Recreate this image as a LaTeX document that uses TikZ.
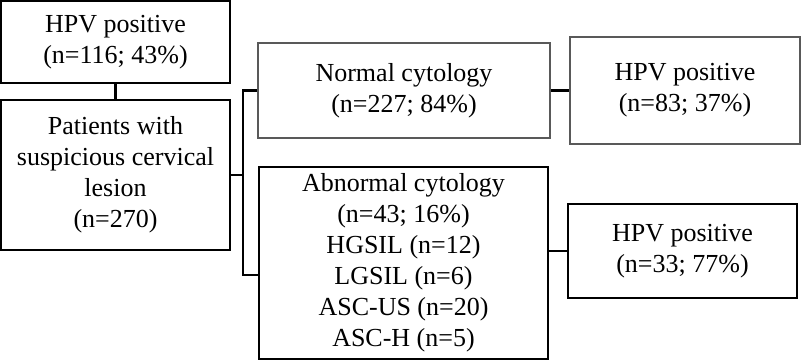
\documentclass[tikz,border=0pt]{standalone}
\usepackage{fontspec}
\setmainfont{Liberation Serif}
\usepackage{tikz}
\usetikzlibrary{positioning,calc}

\begin{document}
\begin{tikzpicture}[x=1pt,y=-1pt,
    box/.style={draw,line width=2.6pt,align=center,inner sep=0pt,
        font=\fontsize{26}{31}\selectfont},
    greybox/.style={box,draw=black!65,line width=1.8pt},
    link/.style={line width=2.2pt}]
            \useasboundingbox (0,0) rectangle (801,361);

            % Left column
            \node[box,minimum width=229pt,minimum height=82pt] (hpvall) at (115.5,42) {HPV positive\\(n=116; 43\%)};
            \node[box,minimum width=229pt,minimum height=150pt] (patients) at (115.5,175) {Patients with\\suspicious cervical\\lesion\\(n=270)};

            % Cytology
            \node[greybox,minimum width=292pt,minimum height=95pt] (normal) at (404,90.5) {Normal cytology\\(n=227; 84\%)};
            \node[box,minimum width=289pt,minimum height=192pt] (abnormal) at (403.5,263) {Abnormal cytology\\(n=43; 16\%)\\HGSIL (n=12)\\LGSIL (n=6)\\ASC-US (n=20)\\ASC-H (n=5)};

            % HPV results
            \node[greybox,minimum width=230pt,minimum height=107pt] (hpvnormal) at (685,90.5) {HPV positive\\(n=83; 37\%)};
            \node[box,minimum width=229pt,minimum height=94pt] (hpvabnormal) at (682.5,251) {HPV positive\\(n=33; 77\%)};

            % Connectors
            \coordinate (split) at (243,175);
            \draw[link] (hpvall.south) -- (patients.north);
            \draw[link] (patients.east) -- (split);
            \draw[link] (normal.west) -| (split);
            \draw[link] (split) |- ([yshift=-12pt]abnormal.west);
            \draw[link] (normal.east) -- (hpvnormal.west);
            \draw[link] (hpvabnormal.west -| abnormal.east) -- (hpvabnormal.west);
        \end{tikzpicture}
\end{document}
